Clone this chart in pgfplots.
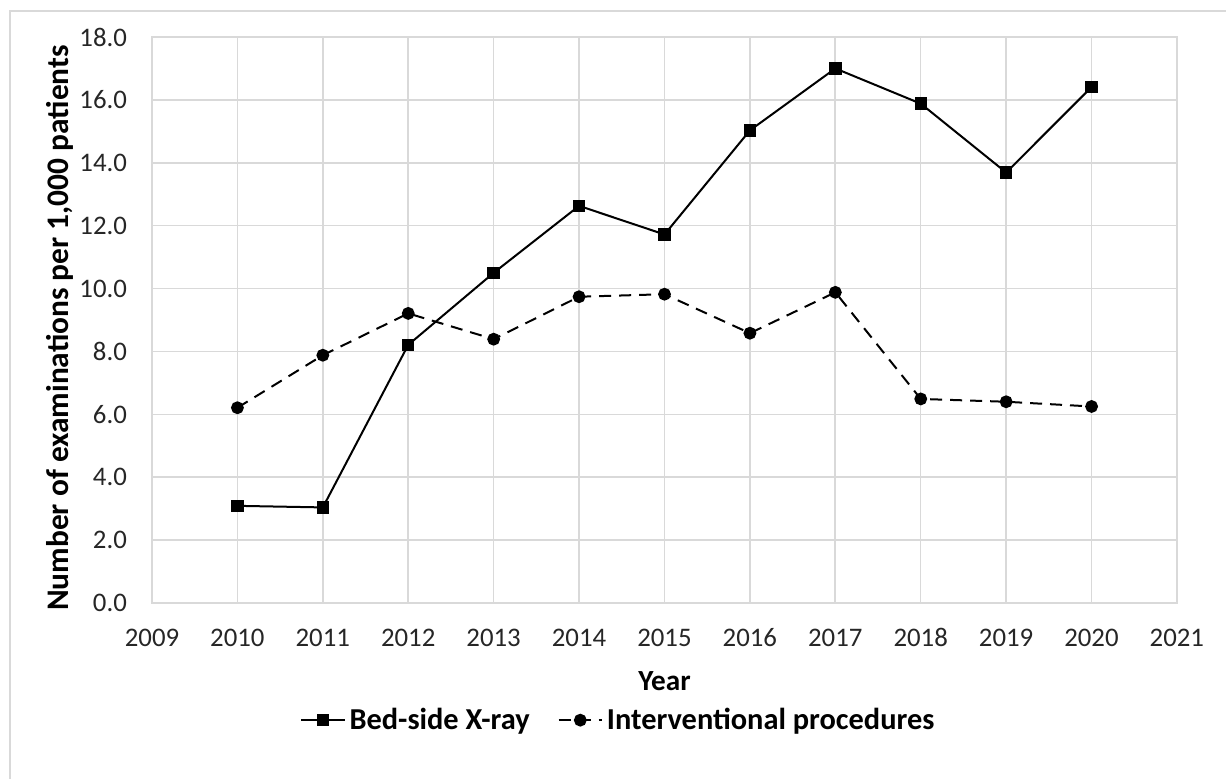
\documentclass[border=0pt]{standalone}
\usepackage{pgfplots}
\pgfplotsset{compat=1.18}
\usepackage{fontspec}
\setmainfont{Carlito}
\definecolor{gridgray}{HTML}{D9D9D9}
\definecolor{ticktext}{HTML}{262626}
\pgfplotstableread{
year val
2010 3.09
2011 3.04
2012 8.21
2013 10.50
2014 12.63
2015 11.72
2016 15.03
2017 17.00
2018 15.88
2019 13.69
2020 16.41
}\bedside
\pgfplotstableread{
year val
2010 6.21
2011 7.88
2012 9.21
2013 8.39
2014 9.74
2015 9.82
2016 8.58
2017 9.88
2018 6.49
2019 6.40
2020 6.25
}\interv
\begin{document}
\begin{tikzpicture}[font=\fontsize{13.4}{16}\selectfont]
\useasboundingbox (-76pt,-87.5pt) rectangle (537pt,301.5pt);
\draw[gridgray, line width=0.8pt] (-71pt,296pt) rectangle (537.5pt,-88.5pt);
\begin{axis}[
  at={(0pt,0pt)}, anchor=south west,
  scale only axis, width=512.5pt, height=283pt,
  xmin=2009, xmax=2021, ymin=0, ymax=18,
  xtick={2009,...,2021}, ytick={0,2,...,18},
  grid=major,
  grid style={gridgray, line width=0.8pt},
  axis line style={gridgray, line width=0.8pt},
  major tick length=0pt,
  /pgf/number format/assume math mode=true,
  xticklabel style={/pgf/number format/1000 sep={}, anchor=base, yshift=-21.5pt, text=ticktext},
  yticklabel style={/pgf/number format/.cd, fixed, fixed zerofill, precision=1, /tikz/.cd, xshift=-9pt, text=ticktext},
  xlabel={\textbf{Year}},
  ylabel={\textbf{Number of examinations per 1,000 patients}},
  xlabel style={at={(axis description cs:0.5,-0.138)}, anchor=center, font=\fontsize{14.6}{17}\selectfont},
  ylabel style={at={(axis description cs:-0.09,0.486)}, anchor=center, font=\fontsize{15.7}{18}\selectfont},
  legend columns=2,
  legend style={at={(axis description cs:0.456,-0.207)}, anchor=center, draw=none, fill=none,
    font=\fontsize{15.2}{18}\selectfont\bfseries,
    /tikz/every even column/.append style={column sep=12pt}},
  legend image code/.code={
    \draw[mark repeat=2,mark phase=2] plot coordinates {(0cm,0cm) (0.38cm,0cm) (0.76cm,0cm)};
  },
]
\addplot[black, line width=1pt, mark=square*, mark size=2.6pt, mark options={solid}] table[x=year,y=val]{\bedside};
\addlegendentry{Bed-side X-ray}
\addplot[black, line width=1pt, dash pattern=on 6pt off 4pt, mark=*, mark size=2.7pt, mark options={solid}] table[x=year,y=val]{\interv};
\addlegendentry{Interventional procedures}
\end{axis}
\end{tikzpicture}
\end{document}
